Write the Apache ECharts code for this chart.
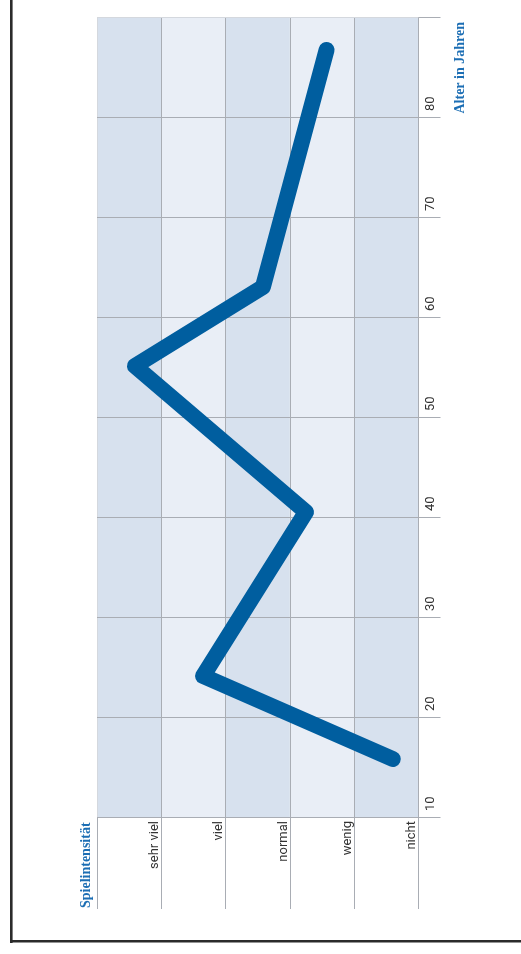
<!DOCTYPE html>
<html>
<head>
<meta charset="utf-8">
<script src="https://cdn.jsdelivr.net/npm/echarts@6/dist/echarts.min.js"></script>
<style>
html,body{margin:0;padding:0;background:#fff;}
#chart{width:521px;height:954px;}
</style>
</head>
<body>
<div id="chart"></div>
<script>
// Data
const ages = [15.8, 24.1, 40.5, 55.1, 63.0, 86.7];
const intensity = [4.60, 1.65, 3.25, 0.59, 2.58, 3.57];
const intensityLabels = ['sehr viel', 'viel', 'normal', 'wenig', 'nicht'];
const ageMin = 10, ageMax = 90, ageStep = 10;
const ageTitle = 'Alter in Jahren';
const intensityTitle = 'Spielintensität';

const gridGray = '#a9adb4';
const lightGray = '#d4d8de';
const textColor = '#333333';
const titleBlue = '#1c6eb4';

const chart = echarts.init(document.getElementById('chart'), null, {renderer: 'canvas'});
const seriesData = ages.map((a, i) => [intensity[i], a]);

chart.setOption({
  animation: false,
  backgroundColor: '#ffffff',
  grid: {left: 97, right: 102.5, top: 17, bottom: 137, containLabel: false},
  xAxis: {
    type: 'value', min: 0, max: intensityLabels.length, interval: 1,
    position: 'bottom', z: 0,
    axisLine: {show: false, onZero: false},
    axisTick: {show: true, inside: false, length: 92, lineStyle: {color: gridGray, width: 1}},
    axisLabel: {
      rotate: 90, margin: 4, align: 'right', verticalAlign: 'bottom',
      fontFamily: 'Roboto', fontSize: 13, color: textColor,
      formatter: v => (v >= 1 ? intensityLabels[v - 1] : '')
    },
    splitLine: {show: true, lineStyle: {color: [lightGray, gridGray, gridGray, gridGray, gridGray, gridGray], width: 1}},
    splitArea: {show: true, areaStyle: {color: ['#d7e1ee', '#e9eef6']}}
  },
  yAxis: {
    type: 'value', min: ageMin, max: ageMax, interval: ageStep,
    position: 'right', z: 1,
    axisLine: {show: false, onZero: false},
    axisTick: {show: true, inside: false, length: 22, lineStyle: {color: gridGray, width: 1}},
    axisLabel: {
      rotate: 90, margin: 6, align: 'left', verticalAlign: 'top',
      padding: [0, 0, 0, 6],
      fontFamily: 'Roboto', fontSize: 13, color: textColor,
      formatter: v => (v >= ageMax ? '' : String(v))
    },
    splitLine: {show: true, lineStyle: {color: [gridGray, gridGray, gridGray, gridGray, gridGray, gridGray, gridGray, gridGray, lightGray], width: 1}},
    splitArea: {show: false}
  },
  series: [{
    type: 'line',
    data: seriesData,
    showSymbol: false,
    symbol: 'none',
    z: 5,
    lineStyle: {color: '#005e9f', width: 16, cap: 'round', join: 'round'}
  }],
  graphic: [
    {type: 'rect', shape: {x: 10, y: 0, width: 2.6, height: 943}, style: {fill: '#2b2b2b'}, z: 10},
    {type: 'rect', shape: {x: 10, y: 940, width: 511, height: 2.6}, style: {fill: '#2b2b2b'}, z: 10},
    {type: 'text', x: 460, y: 22, rotation: Math.PI / 2,
     style: {text: ageTitle, fill: titleBlue, font: 'bold 14px "Liberation Serif"', align: 'right', verticalAlign: 'middle'}, z: 10},
    {type: 'text', x: 86, y: 908, rotation: Math.PI / 2,
     style: {text: intensityTitle, fill: titleBlue, font: 'bold 14px "Liberation Serif"', align: 'left', verticalAlign: 'middle'}, z: 10}
  ]
});
</script>
</body>
</html>
